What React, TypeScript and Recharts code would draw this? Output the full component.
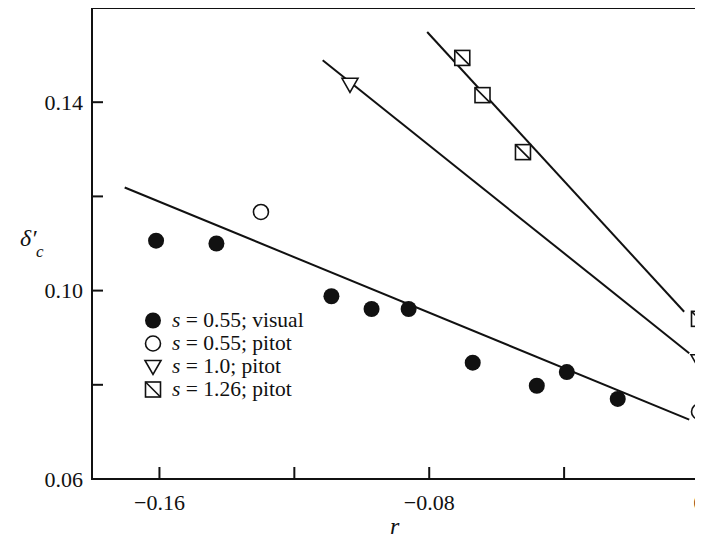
import React from "react";
import { ScatterChart, Scatter, XAxis, YAxis, ReferenceLine, ReferenceArea } from "recharts";

// measured points, r on x and delta'_c on y
const visual055 = [
  { r: -0.161, d: 0.1106 },
  { r: -0.1431, d: 0.11 },
  { r: -0.109, d: 0.0988 },
  { r: -0.0971, d: 0.0961 },
  { r: -0.0861, d: 0.0961 },
  { r: -0.0671, d: 0.0847 },
  { r: -0.0481, d: 0.0798 },
  { r: -0.0392, d: 0.0827 },
  { r: -0.0241, d: 0.077 },
];
const pitot055 = [
  { r: -0.1299, d: 0.1167 },
  { r: 0, d: 0.0743 },
];
const pitot10 = [
  { r: -0.1035, d: 0.1438 },
  { r: 0, d: 0.0851 },
];
const pitot126 = [
  { r: -0.0702, d: 0.1494 },
  { r: -0.0642, d: 0.1415 },
  { r: -0.0522, d: 0.1294 },
  { r: 0, d: 0.094 },
];

// straight fits, end points
const fit055 = [
  { r: -0.1703, d: 0.1219 },
  { r: -0.0029, d: 0.0726 },
];
const fit10 = [
  { r: -0.1116, d: 0.1489 },
  { r: -0.0029, d: 0.0867 },
];
const fit126 = [
  { r: -0.0806, d: 0.1549 },
  { r: -0.0044, d: 0.0955 },
];

const xTicks = [-0.16, -0.12, -0.08, -0.04, 0];
const xLabelled = [-0.16, -0.08, 0];
const yTicks = [0.06, 0.08, 0.1, 0.12, 0.14];
const yLabelled = [0.06, 0.1, 0.14];

const FONT = "'Liberation Serif', 'Times New Roman', serif";
const INK = "#111";

const fmt = (v: number) => (v === 0 ? "0" : (v < 0 ? "\u2212" : "") + Math.abs(v).toFixed(2));

const XTick = (props: any) => {
  const { x, y, payload } = props;
  const v = payload.value;
  return (
    <g>
      {v < 0 && <line x1={x} x2={x} y1={y} y2={y - 12} stroke={INK} strokeWidth={2} />}
      {xLabelled.includes(v) && (
        <text x={x} y={y + 23} textAnchor="middle" dominantBaseline="central" fontSize={22} fontFamily={FONT} fill={INK}>
          {fmt(v)}
        </text>
      )}
    </g>
  );
};

const YTick = (props: any) => {
  const { x, y, payload } = props;
  const v = payload.value;
  return (
    <g>
      {v > 0.06 && <line x1={x} x2={x + 11} y1={y} y2={y} stroke={INK} strokeWidth={2} />}
      {yLabelled.includes(v) && (
        <text x={x - 9} y={y} textAnchor="end" dominantBaseline="central" fontSize={22} fontFamily={FONT} fill={INK}>
          {fmt(v)}
        </text>
      )}
    </g>
  );
};

const Dot = ({ cx, cy }: any) => <circle cx={cx} cy={cy} r={8} fill={INK} />;
const Ring = ({ cx, cy }: any) => <circle cx={cx} cy={cy} r={7.5} fill="#fff" stroke={INK} strokeWidth={1.6} />;
const Tri = ({ cx, cy }: any) => (
  <polygon
    points={`${cx - 8},${cy - 6} ${cx + 8},${cy - 6} ${cx},${cy + 8}`}
    fill="#fff"
    stroke={INK}
    strokeWidth={1.6}
  />
);
const Box = ({ cx, cy }: any) => (
  <g>
    <rect x={cx - 7.5} y={cy - 7.5} width={15} height={15} fill="#fff" stroke={INK} strokeWidth={1.6} />
    <line x1={cx - 7.5} y1={cy - 7.5} x2={cx + 7.5} y2={cy + 7.5} stroke={INK} strokeWidth={1.6} />
  </g>
);

const legendRows = [
  { Icon: Dot, value: "0.55", kind: "visual" },
  { Icon: Ring, value: "0.55", kind: "pitot" },
  { Icon: Tri, value: "1.0", kind: "pitot" },
  { Icon: Box, value: "1.26", kind: "pitot" },
];

export default function App() {
  return (
    <div style={{ position: "relative", width: 703, height: 543, margin: -8, background: "#fff", fontFamily: FONT, color: INK }}>
      <ScatterChart width={703} height={543} margin={{ top: 8, right: 4, bottom: 0, left: 0 }}>
        <XAxis
          type="number"
          dataKey="r"
          domain={[-0.18, 0]}
          ticks={xTicks}
          tick={<XTick />}
          tickLine={false}
          tickSize={0}
          tickMargin={0}
          height={64}
          axisLine={{ stroke: INK, strokeWidth: 2 }}
          allowDataOverflow
        />
        <YAxis
          type="number"
          dataKey="d"
          domain={[0.06, 0.16]}
          ticks={yTicks}
          tick={<YTick />}
          tickLine={false}
          tickSize={0}
          tickMargin={0}
          width={92}
          axisLine={{ stroke: INK, strokeWidth: 2 }}
          allowDataOverflow
        />
        <ReferenceArea x1={-0.18} x2={0} y1={0.06} y2={0.16} fill="none" stroke={INK} strokeWidth={2} ifOverflow="visible" />
        {[fit055, fit10, fit126].map((seg, i) => (
          <ReferenceLine
            key={i}
            segment={seg.map((p) => ({ x: p.r, y: p.d }))}
            stroke={INK}
            strokeWidth={2}
            ifOverflow="visible"
          />
        ))}
        <Scatter data={visual055} shape={Dot} isAnimationActive={false} />
        <Scatter data={pitot055} shape={Ring} isAnimationActive={false} />
        <Scatter data={pitot10} shape={Tri} isAnimationActive={false} />
        <Scatter data={pitot126} shape={Box} isAnimationActive={false} />
      </ScatterChart>

      {/* legend */}
      <div style={{ position: "absolute", left: 140, top: 309 }}>
        {legendRows.map(({ Icon, value, kind }, i) => (
          <div key={i} style={{ display: "flex", alignItems: "center", height: 23, fontSize: 21.5, whiteSpace: "nowrap" }}>
            <svg width={26} height={23} style={{ flex: "none" }}>
              <Icon cx={13} cy={11.5} />
            </svg>
            <span style={{ marginLeft: 6 }}>
              <i>s</i> = {value}; {kind}
            </span>
          </div>
        ))}
      </div>

      {/* axis titles */}
      <div style={{ position: "absolute", left: 390, top: 513, fontSize: 24, fontStyle: "italic" }}>r</div>
      <div style={{ position: "absolute", left: 20, top: 226, fontSize: 24, lineHeight: "24px", whiteSpace: "nowrap" }}>
        <i>δ′</i>
        <i style={{ position: "absolute", left: 16, top: 17, fontSize: 17, lineHeight: "17px" }}>c</i>
      </div>
    </div>
  );
}
